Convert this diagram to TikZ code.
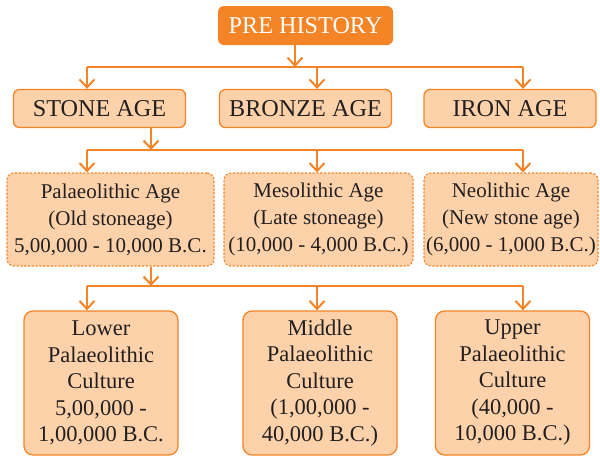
\documentclass[tikz,border=0pt]{standalone}
\usepackage{fontspec}
\setmainfont{Liberation Serif}
\usetikzlibrary{arrows.meta}
\definecolor{flame}{HTML}{F58426}
\definecolor{peach}{HTML}{FDD2AA}
\definecolor{ink}{HTML}{231F20}

\begin{document}
\begin{tikzpicture}[x=1pt,y=-1pt,>={Straight Barb[length=8pt,width=15pt]},
  link/.style={flame,line width=2pt},
  headbox/.style={fill=flame,text=white,rounded corners=6pt,inner sep=0pt,
    minimum width=175pt,minimum height=39pt,font=\fontsize{24.2}{27}\selectfont},
  agebox/.style={draw=flame,line width=1.3pt,fill=peach,text=ink,rounded corners=6pt,
    inner sep=0pt,minimum width=172pt,minimum height=38pt,font=\fontsize{24.2}{27}\selectfont},
  periodbox/.style={draw=flame,line width=1.1pt,dash pattern=on 2.2pt off 1.6pt,fill=peach,
    text=ink,rounded corners=7pt,inner sep=0pt,minimum height=93pt,align=center,
    font=\fontsize{21}{27}\selectfont},
  culturebox/.style={draw=flame,line width=1.3pt,fill=peach,text=ink,rounded corners=9pt,
    inner sep=0pt,minimum width=154pt,minimum height=144pt,align=center,
    font=\fontsize{22.5}{26.5}\selectfont}]
  \useasboundingbox (0,0) rectangle (600,456);

  % top of the tree
  \node[headbox] (pre) at (305.5,25.5) {PRE HISTORY};

  % three ages
  \node[agebox] (stone) at (99.5,108.5) {STONE AGE};
  \node[agebox] (bronze) at (305.5,108.5) {BRONZE AGE};
  \node[agebox] (iron) at (510,108.5) {IRON AGE};

  % stone age periods
  \node[periodbox,minimum width=207pt] (palaeo) at (110.5,219.5)
    {Palaeolithic Age\\(Old stoneage)\\5,00,000 - 10,000 B.C.};
  \node[periodbox,minimum width=189pt] (meso) at (318.5,219.5)
    {Mesolithic Age\\(Late stoneage)\\(10,000 - 4,000 B.C.)};
  \node[periodbox,minimum width=174pt] (neo) at (511,219.5)
    {Neolithic Age\\(New stone age)\\(6,000 - 1,000 B.C.)};

  % palaeolithic cultures
  \node[culturebox] (lower) at (101,383)
    {Lower\\Palaeolithic\\Culture\\5,00,000 -\\1,00,000 B.C.};
  \node[culturebox] (middle) at (320,383)
    {Middle\\Palaeolithic\\Culture\\(1,00,000 -\\40,000 B.C.)};
  \node[culturebox] (upper) at (512.5,383)
    {Upper\\Palaeolithic\\Culture\\(40,000 -\\10,000 B.C.)};

  % branch points and columns
  \coordinate (busA) at (295,67);
  \coordinate (busB) at (151,150);
  \coordinate (busC) at (151,286);
  \coordinate (colL) at (87,0);
  \coordinate (colM) at (317,0);
  \coordinate (colR) at (523,0);

  % connectors
  \draw[link,->] (busA |- pre.south) -- (busA);
  \draw[link] (colL |- busA) -- (colR |- busA);
  \foreach \col/\kid in {colL/stone,colM/bronze,colR/iron}
    \draw[link,->] (\col |- busA) -- (\col |- \kid.north);

  \draw[link,->] (busB |- stone.south) -- (busB);
  \draw[link] (colL |- busB) -- (colR |- busB);
  \foreach \col/\kid in {colL/palaeo,colM/meso,colR/neo}
    \draw[link,->] (\col |- busB) -- (\col |- \kid.north);

  \draw[link,->] (busC |- palaeo.south) -- (busC);
  \draw[link] (colL |- busC) -- (colR |- busC);
  \foreach \col/\kid in {colL/lower,colM/middle,colR/upper}
    \draw[link,->] (\col |- busC) -- (\col |- \kid.north);
\end{tikzpicture}
\end{document}
